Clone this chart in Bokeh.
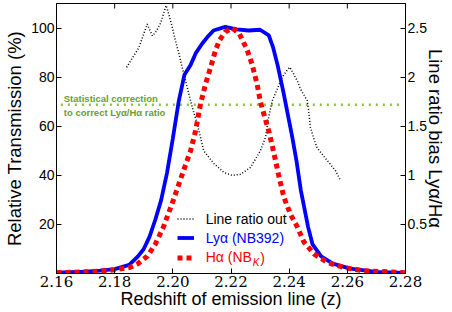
import math
from bokeh.plotting import figure
from bokeh.models import (LinearAxis, Range1d, FixedTicker, Legend, LegendItem,
                          Label, NumeralTickFormatter)
from bokeh.embed import file_html
from bokeh.resources import INLINE

# ---- data ----
lya_z = [2.160, 2.170, 2.175, 2.180, 2.185, 2.188, 2.190, 2.192, 2.194, 2.196,
         2.198, 2.200, 2.202, 2.204, 2.206, 2.208, 2.210, 2.212, 2.214, 2.218,
         2.222, 2.226, 2.230, 2.233, 2.2345, 2.236, 2.238, 2.240, 2.241, 2.2425,
         2.244, 2.2465, 2.248, 2.251, 2.255, 2.261, 2.270, 2.280]
lya_t = [0.3, 0.8, 1.2, 1.8, 3.5, 7, 10, 15, 22, 30,
         41, 55, 70, 81, 84.7, 90, 93.5, 96.5, 99, 100.5,
         99.5, 99, 99.3, 97, 92, 85, 74, 62, 56, 46,
         34, 19, 12, 7, 4, 2, 0.7, 0.2]

ha_z = [2.160, 2.170, 2.175, 2.180, 2.1854, 2.188, 2.1912, 2.1940, 2.1968, 2.2002,
        2.2037, 2.2061, 2.2078, 2.2095, 2.2112, 2.2130, 2.2147, 2.2160, 2.2181, 2.2204,
        2.2229, 2.2256, 2.2273, 2.2290, 2.2301, 2.2313, 2.2330, 2.2342, 2.2364, 2.2382,
        2.2405, 2.2428, 2.2450, 2.2485, 2.2531, 2.2587, 2.265, 2.280]
ha_t = [0.3, 0.7, 1.0, 1.5, 2.5, 4, 7, 12, 19, 30,
        42, 50, 58, 69, 77, 84, 91, 95, 98.5, 100,
        97.6, 91, 85, 77, 70, 65, 58, 52, 40, 31,
        24, 19, 13, 8, 4.5, 2.5, 1.2, 0.3]

ratio_z = [2.1841, 2.1860, 2.1883, 2.1900, 2.1912, 2.1930, 2.1944, 2.1958, 2.1977, 2.1986,
           2.1998, 2.2009, 2.2021, 2.2032, 2.2044, 2.2055, 2.2067, 2.2084, 2.2095, 2.2106,
           2.2141, 2.2175, 2.2204, 2.2233, 2.2267, 2.2301, 2.2319, 2.2330, 2.2342, 2.2359,
           2.2376, 2.2393, 2.2402, 2.2416, 2.2428, 2.2439, 2.2462, 2.2467, 2.2473, 2.2484,
           2.2496, 2.2531, 2.2559, 2.2576]
ratio_v = [2.10, 2.19, 2.30, 2.44, 2.54, 2.42, 2.47, 2.55, 2.73, 2.64,
           2.51, 2.37, 2.24, 2.10, 1.96, 1.83, 1.69, 1.52, 1.39, 1.25,
           1.12, 1.03, 1.00, 1.01, 1.08, 1.25, 1.39, 1.60, 1.76, 1.88,
           2.00, 2.07, 2.10, 2.03, 1.96, 1.88, 1.76, 1.66, 1.49, 1.38,
           1.28, 1.15, 1.05, 0.95]

corr_z = [2.1615, 2.2790]
corr_v = [1.72, 1.72]

x_ticks = [2.16, 2.18, 2.20, 2.22, 2.24, 2.26, 2.28]
left_ticks = [20, 40, 60, 80, 100]
right_ticks = [0.5, 1.0, 1.5, 2.0, 2.5]
y_top = 110

SANS = "Liberation Sans"
SERIF = "'DejaVu Serif', serif"

p = figure(width=452, height=312, x_range=Range1d(2.16, 2.28), y_range=Range1d(0, y_top),
           output_backend="svg", toolbar_location=None,
           min_border_left=56, min_border_right=47, min_border_top=3, min_border_bottom=39)
p.extra_y_ranges = {"ratio": Range1d(0, 2.75)}
p.grid.visible = False
p.outline_line_color = "black"
p.outline_line_width = 1
p.background_fill_color = "white"
p.border_fill_color = "white"


def style(ax):
    ax.major_tick_in = 5
    ax.major_tick_out = 0
    ax.minor_tick_in = 0
    ax.minor_tick_out = 0
    ax.axis_line_color = "black"
    ax.major_tick_line_color = "black"
    ax.major_label_text_color = "black"
    ax.axis_label_text_color = "black"
    ax.axis_label_text_font = SANS
    ax.axis_label_text_font_style = "normal"
    ax.axis_label_text_font_size = "18.5px"
    ax.major_label_text_font = SANS
    ax.major_label_text_font_size = "14px"


xa = p.xaxis[0]
style(xa)
xa.ticker = FixedTicker(ticks=x_ticks)
xa.formatter = NumeralTickFormatter(format="0.00")
xa.major_label_text_font = SERIF
xa.major_label_text_font_size = "15px"
xa.major_label_standoff = 2
xa.axis_label = "Redshift of emission line (z)"
xa.axis_label_text_font_size = "18px"
xa.axis_label_standoff = -1

ya = p.yaxis[0]
style(ya)
ya.ticker = FixedTicker(ticks=left_ticks)
ya.major_label_standoff = 2
ya.axis_label = "Relative Transmission (%)"
ya.axis_label_standoff = 3

ra = LinearAxis(y_range_name="ratio", ticker=FixedTicker(ticks=right_ticks),
                axis_label="Line ratio bias Lyα/Hα")
style(ra)
ra.major_label_standoff = 2
ra.axis_label_standoff = -5
p.add_layout(ra, "right")

# mirrored tick marks on the top edge (same ticks as the bottom axis)
p.ray(x=x_ticks, y=[y_top] * len(x_ticks), length=5, length_units="screen",
      angle=-math.pi / 2, line_color="black", line_width=1)

# ---- glyphs ----
r_corr = p.line(corr_z, corr_v, y_range_name="ratio", line_color="#86c440",
                line_width=2.5, line_dash="2 5")
r_rat = p.line(ratio_z, ratio_v, y_range_name="ratio", line_color="black",
               line_width=1.5, line_dash="1 2")
r_lya = p.line(lya_z, lya_t, line_color="#0000ff", line_width=3.8)
r_ha = p.line(ha_z, ha_t, line_color="#ff0000", line_width=5, line_dash="5 4")

# ---- annotations ----
txt_col = "#66a030"
p.add_layout(Label(x=2.1625, y=71.5, text="Statistical correction", text_font=SANS,
                   text_font_size="9.5px", text_font_style="bold", text_color=txt_col,
                   text_baseline="middle", text_align="left"))
p.add_layout(Label(x=2.1625, y=65.7, text="to correct Lyα/Hα ratio", text_font=SANS,
                   text_font_size="9.5px", text_font_style="bold", text_color=txt_col,
                   text_baseline="middle", text_align="left"))

leg_x = 120.7
rows = [(r_rat, "Line ratio out", "black", 44.9),
        (r_lya, "Lyα (NB392)", "#0000ff", 25.9),
        (r_ha, "Hα (NB", "#ff0000", 6.5)]
for rend, lab, col, yy in rows:
    lg = Legend(items=[LegendItem(label=lab, renderers=[rend])], location=(leg_x, yy),
                padding=0, margin=0, spacing=0, label_standoff=12, glyph_width=17,
                glyph_height=19, label_height=19, border_line_color=None,
                background_fill_alpha=0, label_text_font=SANS, label_text_font_size="14px",
                label_text_color=col)
    p.add_layout(lg, "center")

kx = leg_x + 17 + 12 + 46.6
p.add_layout(Label(x=kx, y=11.5, x_units="screen", y_units="screen", text="K",
                   text_font=SANS, text_font_size="10px", text_font_style="italic",
                   text_color="#ff0000", text_baseline="middle", text_align="left"))
p.add_layout(Label(x=kx + 7.5, y=16.0, x_units="screen", y_units="screen", text=")",
                   text_font=SANS, text_font_size="14px",
                   text_color="#ff0000", text_baseline="middle", text_align="left"))

open("out.html", "w").write(file_html(p, INLINE))
